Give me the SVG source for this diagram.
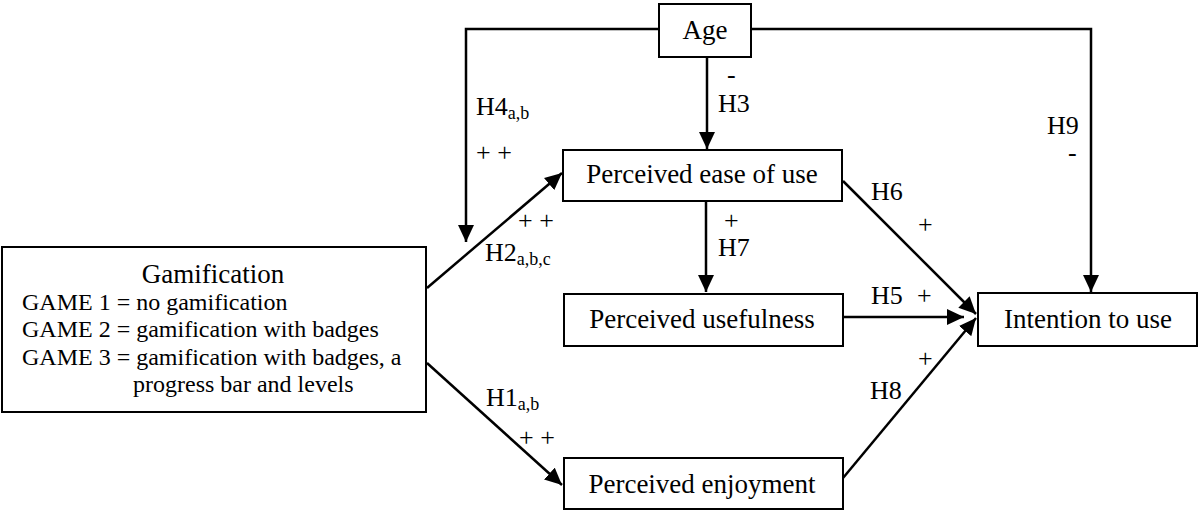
<svg xmlns="http://www.w3.org/2000/svg" width="1199" height="511" viewBox="0 0 1199 511" font-family="'Liberation Serif', 'DejaVu Serif', serif">
<style>
text{font-family:'Liberation Serif','DejaVu Serif',serif;fill:#000}
.box{fill:#fff;stroke:#000;stroke-width:2}
.t{font-size:27px}
.m{text-anchor:middle}
.s{font-size:24px}
.l{font-size:26px}
.sub{font-size:18px}
.c{fill:none;stroke:#000;stroke-width:2.5}
</style>
<defs>
<marker id="ah" markerUnits="userSpaceOnUse" markerWidth="18" markerHeight="16" refX="17" refY="8" orient="auto">
<path d="M0,0 L17,8 L0,16 Z" fill="#000"/>
</marker>
</defs>
<g id="connectors">
<path class="c" d="M659,29 H466 V242" marker-end="url(#ah)"/>
<path class="c" d="M751,29 H1091 V292" marker-end="url(#ah)"/>
<path class="c" d="M707,57 V149" marker-end="url(#ah)"/>
<path class="c" d="M706,201 V292" marker-end="url(#ah)"/>
<path class="c" d="M427,288 L562,173" marker-end="url(#ah)"/>
<path class="c" d="M427,363 L562,485" marker-end="url(#ah)"/>
<path class="c" d="M843,181 L976,314" marker-end="url(#ah)"/>
<path class="c" d="M843,317 L964,317" marker-end="url(#ah)"/>
<path class="c" d="M843,478 L976,318" marker-end="url(#ah)"/>
</g>
<g id="labels">
<text class="l" x="727" y="83">-</text>
<text class="l" x="718" y="112">H3</text>
<text class="l" x="476" y="115">H4<tspan class="sub" dy="4">a,b</tspan></text>
<text class="l" x="476" y="161">+ +</text>
<text class="l" x="518" y="229">+ +</text>
<text class="l" x="485" y="261">H2<tspan class="sub" dy="4">a,b,c</tspan></text>
<text class="l" x="486" y="406">H1<tspan class="sub" dy="4">a,b</tspan></text>
<text class="l" x="519" y="446">+ +</text>
<text class="l" x="724" y="229">+</text>
<text class="l" x="718" y="256">H7</text>
<text class="l" x="1047" y="134">H9</text>
<text class="l" x="1068" y="161">-</text>
<text class="l" x="871" y="200">H6</text>
<text class="l" x="918" y="233">+</text>
<text class="l" x="871" y="304">H5</text>
<text class="l" x="917" y="304">+</text>
<text class="l" x="918" y="367">+</text>
<text class="l" x="870" y="399">H8</text>
</g>
<g id="age"><rect class="box" x="659" y="4" width="92" height="53"/><text class="t m" x="705" y="39">Age</text></g>
<g id="peou"><rect class="box" x="563" y="150" width="279" height="51"/><text class="t m" x="702" y="183">Perceived ease of use</text></g>
<g id="pu"><rect class="box" x="564" y="294" width="279" height="52"/><text class="t m" x="702" y="328">Perceived usefulness</text></g>
<g id="pe"><rect class="box" x="564" y="458" width="279" height="51"/><text class="t m" x="702" y="493">Perceived enjoyment</text></g>
<g id="intention"><rect class="box" x="978" y="293" width="219" height="53"/><text class="t m" x="1088" y="328">Intention to use</text></g>
<g id="gamification">
<rect class="box" x="2" y="247" width="424" height="165"/>
<text class="t m" x="213" y="283">Gamification</text>
<text class="s" x="22" y="310">GAME 1 = no gamification</text>
<text class="s" x="22" y="337">GAME 2 = gamification with badges</text>
<text class="s" x="22" y="365">GAME 3 = gamification with badges, a</text>
<text class="s" x="133" y="392">progress bar and levels</text>
</g>
</svg>
